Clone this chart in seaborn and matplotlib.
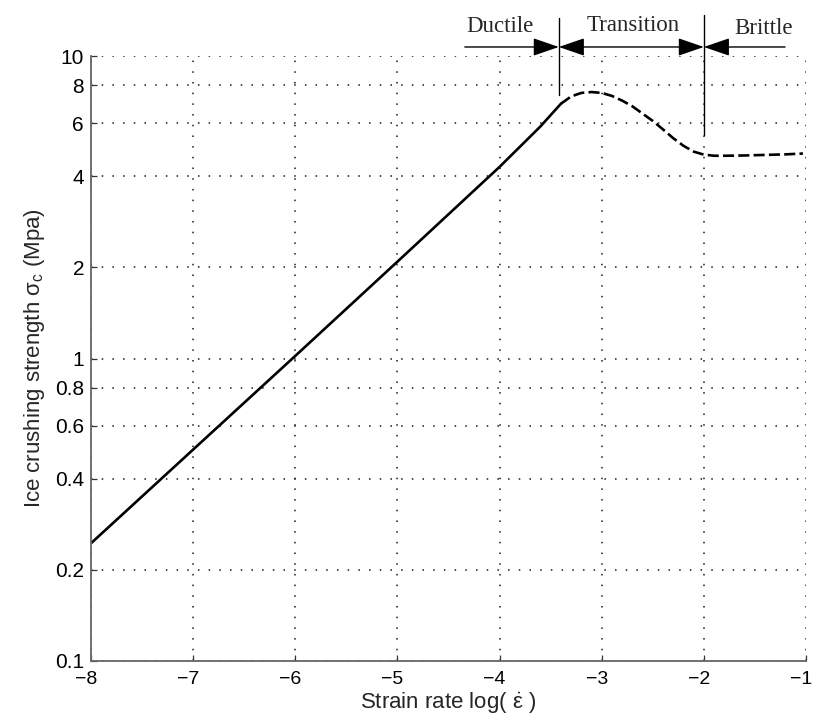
import numpy as np
import pandas as pd
import matplotlib
matplotlib.use("Agg")
import matplotlib.pyplot as plt
import matplotlib.transforms as mtransforms
from matplotlib.patches import FancyArrowPatch
import seaborn as sns

# ---- data ----
ductile_x = [-8.0, -7.0, -6.0, -5.0, -4.0, -3.6, -3.4]
ductile_y = [0.245, 0.5, 1.02, 2.09, 4.3, 5.85, 6.95]

trans_x = [-3.40, -3.30, -3.20, -3.10, -3.00, -2.90, -2.80, -2.70, -2.60, -2.50,
           -2.40, -2.30, -2.20, -2.10, -2.00, -1.90, -1.80, -1.60, -1.40, -1.20, -1.03]
trans_y = [6.95, 7.35, 7.55, 7.6, 7.55, 7.38, 7.12, 6.82, 6.45, 6.1,
           5.72, 5.35, 5.05, 4.83, 4.72, 4.68, 4.68, 4.69, 4.71, 4.73, 4.76]

x_ticks = [-8, -7, -6, -5, -4, -3, -2, -1]
x_ticklabels = ["\u22128", "\u22127", "\u22126", "\u22125", "\u22124", "\u22123", "\u22122", "\u22121"]
y_ticks = [0.1, 0.2, 0.4, 0.6, 0.8, 1, 2, 4, 6, 8, 10]
y_ticklabels = ["0.1", "0.2", "0.4", "0.6", "0.8", "1", "2", "4", "6", "8", "10"]

zone_bounds = [-3.42, -2.0]
zone_names = ["Ductile", "Transition", "Brittle"]

# ---- styling ----
sns.set_theme(style="white")
plt.rcParams["font.family"] = ["Liberation Sans", "DejaVu Sans"]
plt.rcParams["mathtext.fontset"] = "custom"
plt.rcParams["mathtext.rm"] = "Liberation Sans"
plt.rcParams["mathtext.it"] = "Liberation Sans"

fig = plt.figure(figsize=(8.13, 7.2), dpi=100)
ax = fig.add_axes([91 / 813, 1 - 661 / 720, (806 - 91) / 813, (661 - 56) / 720])

df1 = pd.DataFrame({"x": ductile_x, "y": ductile_y})
df2 = pd.DataFrame({"x": trans_x, "y": trans_y})
sns.lineplot(data=df1, x="x", y="y", ax=ax, color="black", lw=1.9, sort=False)
sns.lineplot(data=df2, x="x", y="y", ax=ax, color="black", lw=1.9, sort=False)
ax.lines[-1].set_dashes((4.2, 1.6))

ax.set_yscale("log")
ax.set_xlim(-8, -1)
ax.set_ylim(0.1, 10)
ax.set_xticks(x_ticks)
ax.set_xticklabels(x_ticklabels)
ax.set_yticks(y_ticks)
ax.set_yticklabels(y_ticklabels)
ax.yaxis.set_minor_locator(matplotlib.ticker.NullLocator())

ax.grid(True, which="major", color="0.1", linestyle=(0, (1, 6)), lw=1.1)
for s in ["top", "right"]:
    ax.spines[s].set_visible(False)
for s in ["left", "bottom"]:
    ax.spines[s].set_color("0.4")
    ax.spines[s].set_linewidth(1.3)
ax.tick_params(axis="both", direction="in", length=4, width=0.9, color="0.2",
               left=True, bottom=True, labelcolor="black")
ax.tick_params(axis="y", labelsize=15, pad=5)
ax.tick_params(axis="x", labelsize=14, pad=7)

# x tick labels sit slightly left of their ticks, as in the reference
for lab in ax.get_xticklabels():
    lab.set_transform(lab.get_transform() +
                      mtransforms.ScaledTranslation(-5 / 100, 0, fig.dpi_scale_trans))

ax.set_xlabel(r"Strain rate log( $\mathregular{\dot{\varepsilon}}$ )", fontsize=16, labelpad=2)
ax.set_ylabel(r"Ice crushing strength $\mathregular{\sigma_c}$ (Mpa)", fontsize=16, labelpad=6)

# ---- zone annotations ----
tr = ax.get_xaxis_transform()
ax.plot([zone_bounds[0]] * 2, [0.9355, 1.0628], transform=tr, color="black", lw=1.0, clip_on=False)
ax.plot([zone_bounds[1]] * 2, [0.8694, 1.0678], transform=tr, color="black", lw=1.0, clip_on=False)

ya = 1.0149
arrows = [((-4.34, ya), (zone_bounds[0], ya), "-|>"),
          ((zone_bounds[0], ya), (zone_bounds[1], ya), "<|-|>"),
          ((-1.205, ya), (zone_bounds[1], ya), "-|>")]
for start, end, st in arrows:
    a = FancyArrowPatch(start, end, transform=tr,
                        arrowstyle=st + ",head_length=1.6,head_width=0.55",
                        mutation_scale=10, color="black", lw=1.0, clip_on=False,
                        shrinkA=0, shrinkB=0)
    ax.add_patch(a)

label_x = [-3.995, -2.69, -1.42]
label_y = [1.048, 1.051, 1.046]
for nm, lx, ly in zip(zone_names, label_x, label_y):
    ax.text(lx, ly, nm, transform=tr, ha="center", va="center",
            fontsize=16.5, family="Liberation Serif", clip_on=False)

fig.savefig("out.png", dpi=100)
